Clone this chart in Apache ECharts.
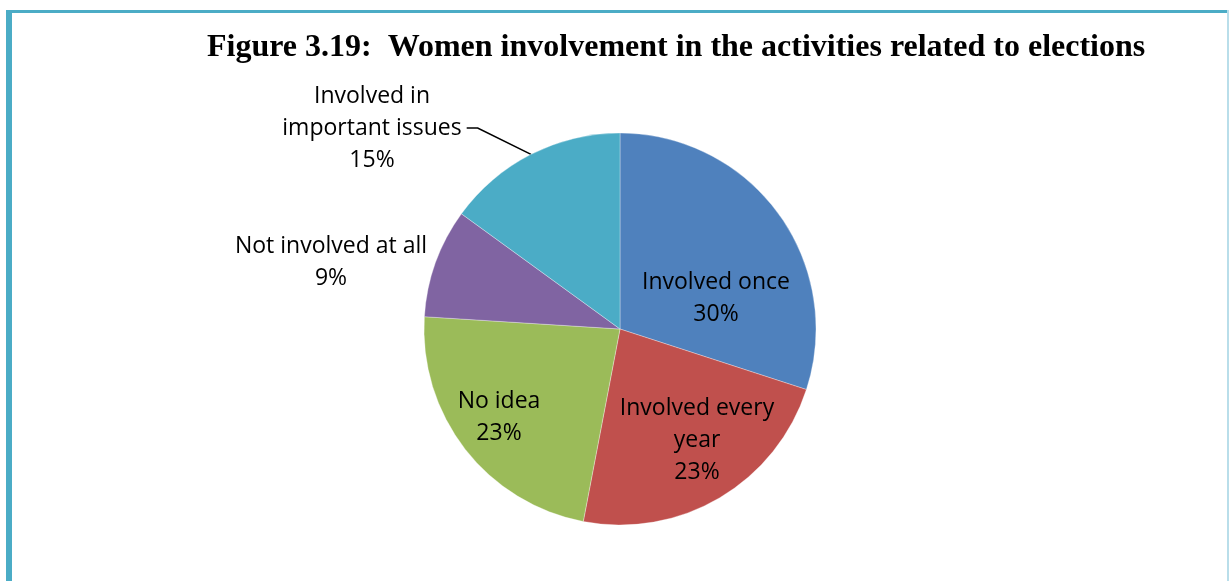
<!DOCTYPE html>
<html>
<head>
<meta charset="utf-8">
<style>
  html, body { margin: 0; padding: 0; background: #fff; }
  #chart { width: 1229px; height: 581px; }
</style>
<script src="https://cdn.jsdelivr.net/npm/echarts@6/dist/echarts.min.js"></script>
</head>
<body>
<div id="chart"></div>
<script>
// Survey categories (with the line breaks used in the slice labels) and their shares in percent
const categories = [
  'Involved once',
  'Involved every\nyear',
  'No idea',
  'Not involved at all',
  'Involved in\nimportant issues'
];
const shares = [30, 23, 23, 9, 15];
const titleText = 'Figure 3.19:  Women involvement in the activities related to elections';

// Label placement: centre point of each label text block
const labelCentres = [
  [716, 298],
  [697, 440],
  [499, 417],
  [331, 262],
  [372, 128]
];
const outsideLabels = [false, false, false, true, true];
const leaderLines = [false, false, false, false, true];

const sliceColors = ['#4F81BD', '#C0504D', '#9BBB59', '#8064A2', '#4BACC6'];

const chart = echarts.init(document.getElementById('chart'), null, { renderer: 'canvas' });

const data = categories.map((name, i) => ({
  name: name,
  value: shares[i],
  itemStyle: { color: sliceColors[i] },
  label: {
    position: outsideLabels[i] ? 'outside' : 'inside',
    // extra bottom padding lowers the leader line's attachment point
    padding: leaderLines[i] ? [0, 5, 12, 5] : 0
  },
  labelLine: { show: leaderLines[i] }
}));

chart.setOption({
  backgroundColor: '#ffffff',
  animation: false,
  title: {
    text: titleText,
    left: 202,
    top: 27,
    textStyle: {
      fontFamily: '"Liberation Serif", "Times New Roman", serif',
      fontWeight: 'bold',
      fontSize: 32,
      color: '#000'
    }
  },
  graphic: [
    // frame around the figure
    { type: 'rect', shape: { x: 6, y: 10, width: 6, height: 600 }, style: { fill: '#4BACC6' }, silent: true },
    { type: 'rect', shape: { x: 6, y: 10, width: 1223, height: 3 }, style: { fill: '#4BACC6' }, silent: true },
    { type: 'rect', shape: { x: 1227, y: 10, width: 2, height: 600 }, style: { fill: '#B9DEEA' }, silent: true }
  ],
  series: [{
    type: 'pie',
    center: [620, 329],
    radius: 196,
    startAngle: 90,
    clockwise: true,
    avoidLabelOverlap: false,
    data: data,
    itemStyle: {
      borderColor: 'rgba(255,255,255,0.4)',
      borderWidth: 0.8
    },
    label: {
      formatter: '{b}\n{c}%',
      fontFamily: '"Open Sans", "Noto Sans", sans-serif',
      fontSize: 23,
      lineHeight: 32,
      color: '#000',
      align: 'center'
    },
    labelLine: {
      length: 20,
      length2: 11,
      smooth: false,
      lineStyle: { color: '#000', width: 1.6 }
    },
    labelLayout: function (params) {
      const c = labelCentres[params.dataIndex];
      return { x: c[0], y: c[1], align: 'center', verticalAlign: 'middle' };
    },
    emphasis: { disabled: true }
  }]
});
</script>
</body>
</html>
